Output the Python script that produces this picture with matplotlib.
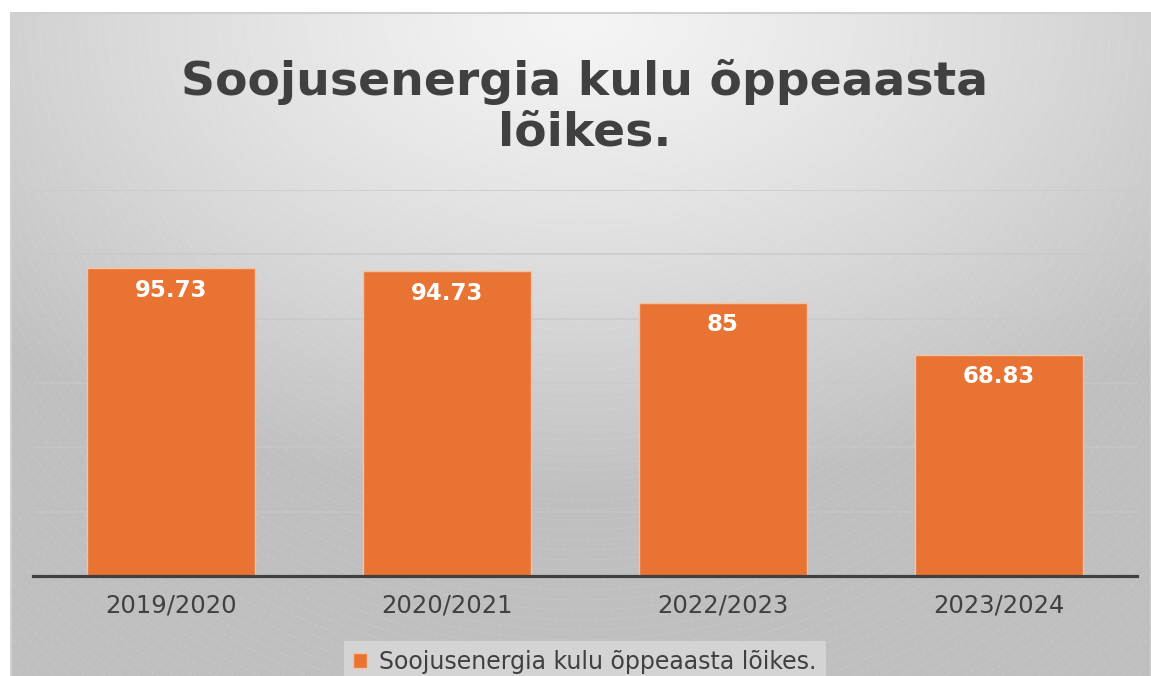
import numpy as np
import matplotlib
matplotlib.use('Agg')
import matplotlib.pyplot as plt

years = ['2019/2020', '2020/2021', '2022/2023', '2023/2024']
values = [95.73, 94.73, 85, 68.83]
labels = ['95.73', '94.73', '85', '68.83']
series_name = 'Soojusenergia kulu õppeaasta lõikes.'
title = 'Soojusenergia kulu õppeaasta\nlõikes.'

W, H = 1151, 676
fig = plt.figure(figsize=(W / 100, H / 100), dpi=100)
fig.patch.set_facecolor('white')

# chart area background: elliptical gradient, light near the title
bg = fig.add_axes([10 / W, 0, (W - 10) / W, (H - 12) / H])
bg.set_xlim(10, W)
bg.set_ylim(H, 12)
bg.axis('off')
xx, yy = np.meshgrid(np.arange(10, W), np.arange(12, H))
r = np.hypot((xx - 580) / 800, (yy - 20) / 480)
shade = np.clip(245 - 54 * r ** 1.2, 191, 255) / 255
img = np.dstack([shade, shade, shade])
bg.imshow(img, extent=(10, W, H, 12), aspect='auto', zorder=0)
t = np.linspace(0, np.pi, 500)
for rad in np.arange(150, 1000, 10):
    bg.plot(580 + rad * np.cos(t), 20 + rad * np.sin(t), color='white',
            lw=0.6, ls=(0, (5, 3)), alpha=0.15, zorder=1)
bg.add_patch(plt.Rectangle((10.5, 12.5), W - 11, H - 12, fill=False,
                           edgecolor='#d0d0d0', lw=1.5, zorder=2))

ax = fig.add_axes([33 / W, 1 - 576 / H, 1104 / W, 386 / H])
ax.patch.set_alpha(0)
x = np.arange(len(years))
bars = ax.bar(x, values, width=0.61, color='#e97333', edgecolor='#f6c3a0',
              linewidth=1, label=series_name, zorder=3)
ax.set_xlim(-0.5, len(years) - 0.5)
ax.set_ylim(0, 120)
ax.set_yticks(np.arange(20, 121, 20))
ax.yaxis.grid(True, color='#c8c8c8', lw=1.2, alpha=0.8)
ax.set_axisbelow(True)
ax.tick_params(axis='y', left=False, labelleft=False)
ax.tick_params(axis='x', bottom=False, pad=9, labelsize=17.5, labelcolor='#404040')
ax.set_xticks(x)
ax.set_xticklabels(years)
for side in ['top', 'right', 'left']:
    ax.spines[side].set_visible(False)
ax.spines['bottom'].set_color('#404040')
ax.spines['bottom'].set_linewidth(2.3)
ax.spines['bottom'].set_zorder(4)

for b, lab in zip(bars, labels):
    ax.annotate(lab, (b.get_x() + b.get_width() / 2, b.get_height()),
                xytext=(0, -16), textcoords='offset points', ha='center',
                va='center', color='white', fontsize=16.5, fontweight='bold',
                zorder=5)

fig.text(585 / W, 1 - 107 / H, title, ha='center', va='center',
         fontsize=34, fontweight='bold', color='#404040', linespacing=1.15)

leg = fig.legend(loc='center', bbox_to_anchor=(585 / W, 1 - 662 / H),
                 fontsize=17, frameon=True, fancybox=False,
                 handlelength=0.6, handleheight=0.6, handletextpad=0.5,
                 borderpad=0.4)
leg.get_frame().set_facecolor('#d4d4d4')
leg.get_frame().set_edgecolor('none')
leg.get_frame().set_alpha(1)
for txt in leg.get_texts():
    txt.set_color('#404040')

fig.savefig('out.png', dpi=100)
